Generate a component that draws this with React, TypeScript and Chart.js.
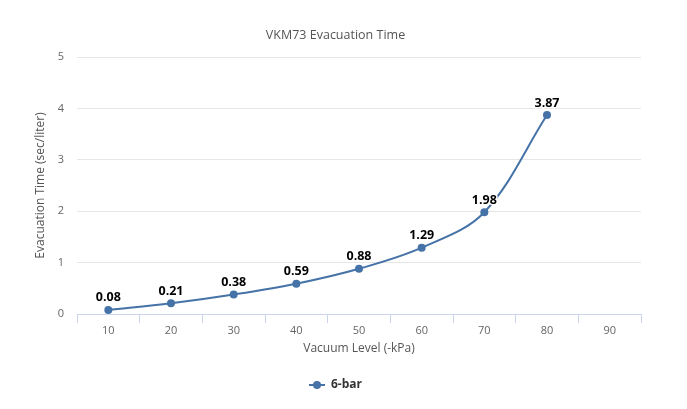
import React, { useEffect, useRef } from "react";
import { Chart, registerables } from "chart.js";

Chart.register(...registerables);

const categories = ["10", "20", "30", "40", "50", "60", "70", "80", "90"];
const values: (number | null)[] = [0.08, 0.21, 0.38, 0.59, 0.88, 1.29, 1.98, 3.87, null];
const yTicks = [0, 1, 2, 3, 4, 5];
const seriesName = "6-bar";
const titleText = "VKM73 Evacuation Time";
const xTitle = "Vacuum Level (-kPa)";
const yTitle = "Evacuation Time (sec/liter)";

const FONT = "'Open Sans', 'DejaVu Sans', sans-serif";
const COLOR = "#4572A7";

function makeLegendIcon(): HTMLCanvasElement {
  const c = document.createElement("canvas");
  c.width = 16;
  c.height = 10;
  const ctx = c.getContext("2d")!;
  ctx.strokeStyle = COLOR;
  ctx.lineWidth = 2;
  ctx.beginPath();
  ctx.moveTo(0, 5);
  ctx.lineTo(16, 5);
  ctx.stroke();
  ctx.fillStyle = COLOR;
  ctx.beginPath();
  ctx.arc(8, 5, 4, 0, Math.PI * 2);
  ctx.fill();
  return c;
}

const dataLabelPlugin = {
  id: "dataLabels",
  afterDatasetsDraw(chart: any) {
    const ctx = chart.ctx;
    const meta = chart.getDatasetMeta(0);
    const ds = chart.data.datasets[0];
    ctx.save();
    ctx.font = `bold 12.5px ${FONT}`;
    ctx.textAlign = "center";
    ctx.textBaseline = "middle";
    ctx.lineJoin = "round";
    meta.data.forEach((pt: any, i: number) => {
      const v = ds.data[i];
      if (v === null || v === undefined) return;
      const txt = Number(v).toFixed(2);
      const y = pt.y - 12;
      ctx.strokeStyle = "#ffffff";
      ctx.lineWidth = 3;
      ctx.strokeText(txt, pt.x, y);
      ctx.fillStyle = "#000000";
      ctx.fillText(txt, pt.x, y);
    });
    ctx.restore();
  },
};

const shiftPlugin = {
  id: "shiftBlocks",
  afterLayout(chart: any) {
    const lg = chart.legend;
    if (lg) {
      lg.left += 15;
      lg.right += 15;
    }
    const tb = chart.titleBlock;
    if (tb) {
      tb.left += 15;
      tb.right += 15;
    }
  },
};

export default function App() {
  const ref = useRef<HTMLCanvasElement>(null);
  useEffect(() => {
    document.body.style.margin = "0";
    const chart = new Chart(ref.current!, {
      type: "line",
      data: {
        labels: categories,
        datasets: [
          {
            label: seriesName,
            data: values,
            borderColor: COLOR,
            backgroundColor: COLOR,
            borderWidth: 2,
            pointRadius: 4,
            pointHoverRadius: 4,
            pointBackgroundColor: COLOR,
            pointBorderWidth: 0,
            tension: 0.35,
            fill: false,
          },
        ],
      },
      options: {
        animation: false,
        responsive: false,
        layout: { padding: { top: 28, right: 46, bottom: 8, left: 0 } },
        plugins: {
          title: {
            display: true,
            text: titleText,
            color: "#555555",
            font: { family: FONT, size: 12.5, weight: "normal" },
            padding: { top: 0, bottom: 14 },
          },
          legend: {
            position: "bottom",
            labels: {
              usePointStyle: true,
              pointStyle: makeLegendIcon() as any,
              pointStyleWidth: 16,
              color: "#333333",
              font: { family: FONT, size: 12, weight: "bold" },
              padding: 10,
            },
          },
          tooltip: { enabled: false },
        },
        scales: {
          x: {
            type: "category",
            offset: true,
            grid: {
              offset: true,
              drawOnChartArea: false,
              drawTicks: true,
              tickLength: 9,
              color: "#ccd6eb",
            },
            border: { display: true, color: "#ccd6eb", width: 1 },
            ticks: {
              color: "#666666",
              font: { family: FONT, size: 11 },
              padding: 1,
              maxRotation: 0,
            },
            title: {
              display: true,
              text: xTitle,
              color: "#555555",
              font: { family: FONT, size: 12 },
              padding: { top: 4, bottom: 13 },
            },
            afterFit(scale: any) {
              scale.height = 55;
            },
          },
          y: {
            min: 0,
            max: 5,
            afterBuildTicks(scale: any) {
              scale.ticks = yTicks.map((v) => ({ value: v }));
            },
            grid: {
              color: "#e6e6e6",
              drawTicks: false,
            },
            border: { display: false },
            ticks: {
              color: "#666666",
              font: { family: FONT, size: 11 },
              padding: 13,
            },
            title: {
              display: true,
              text: yTitle,
              color: "#555555",
              font: { family: FONT, size: 12 },
              padding: { top: 33, bottom: 0 },
            },
            afterFit(scale: any) {
              scale.width = 77;
            },
          },
        },
      },
      plugins: [dataLabelPlugin, shiftPlugin],
    });
    return () => chart.destroy();
  }, []);
  return (
    <div style={{ position: "absolute", left: 0, top: 0, width: 687, height: 409 }}>
      <canvas ref={ref} width={687} height={409} style={{ width: 687, height: 409 }} />
    </div>
  );
}
